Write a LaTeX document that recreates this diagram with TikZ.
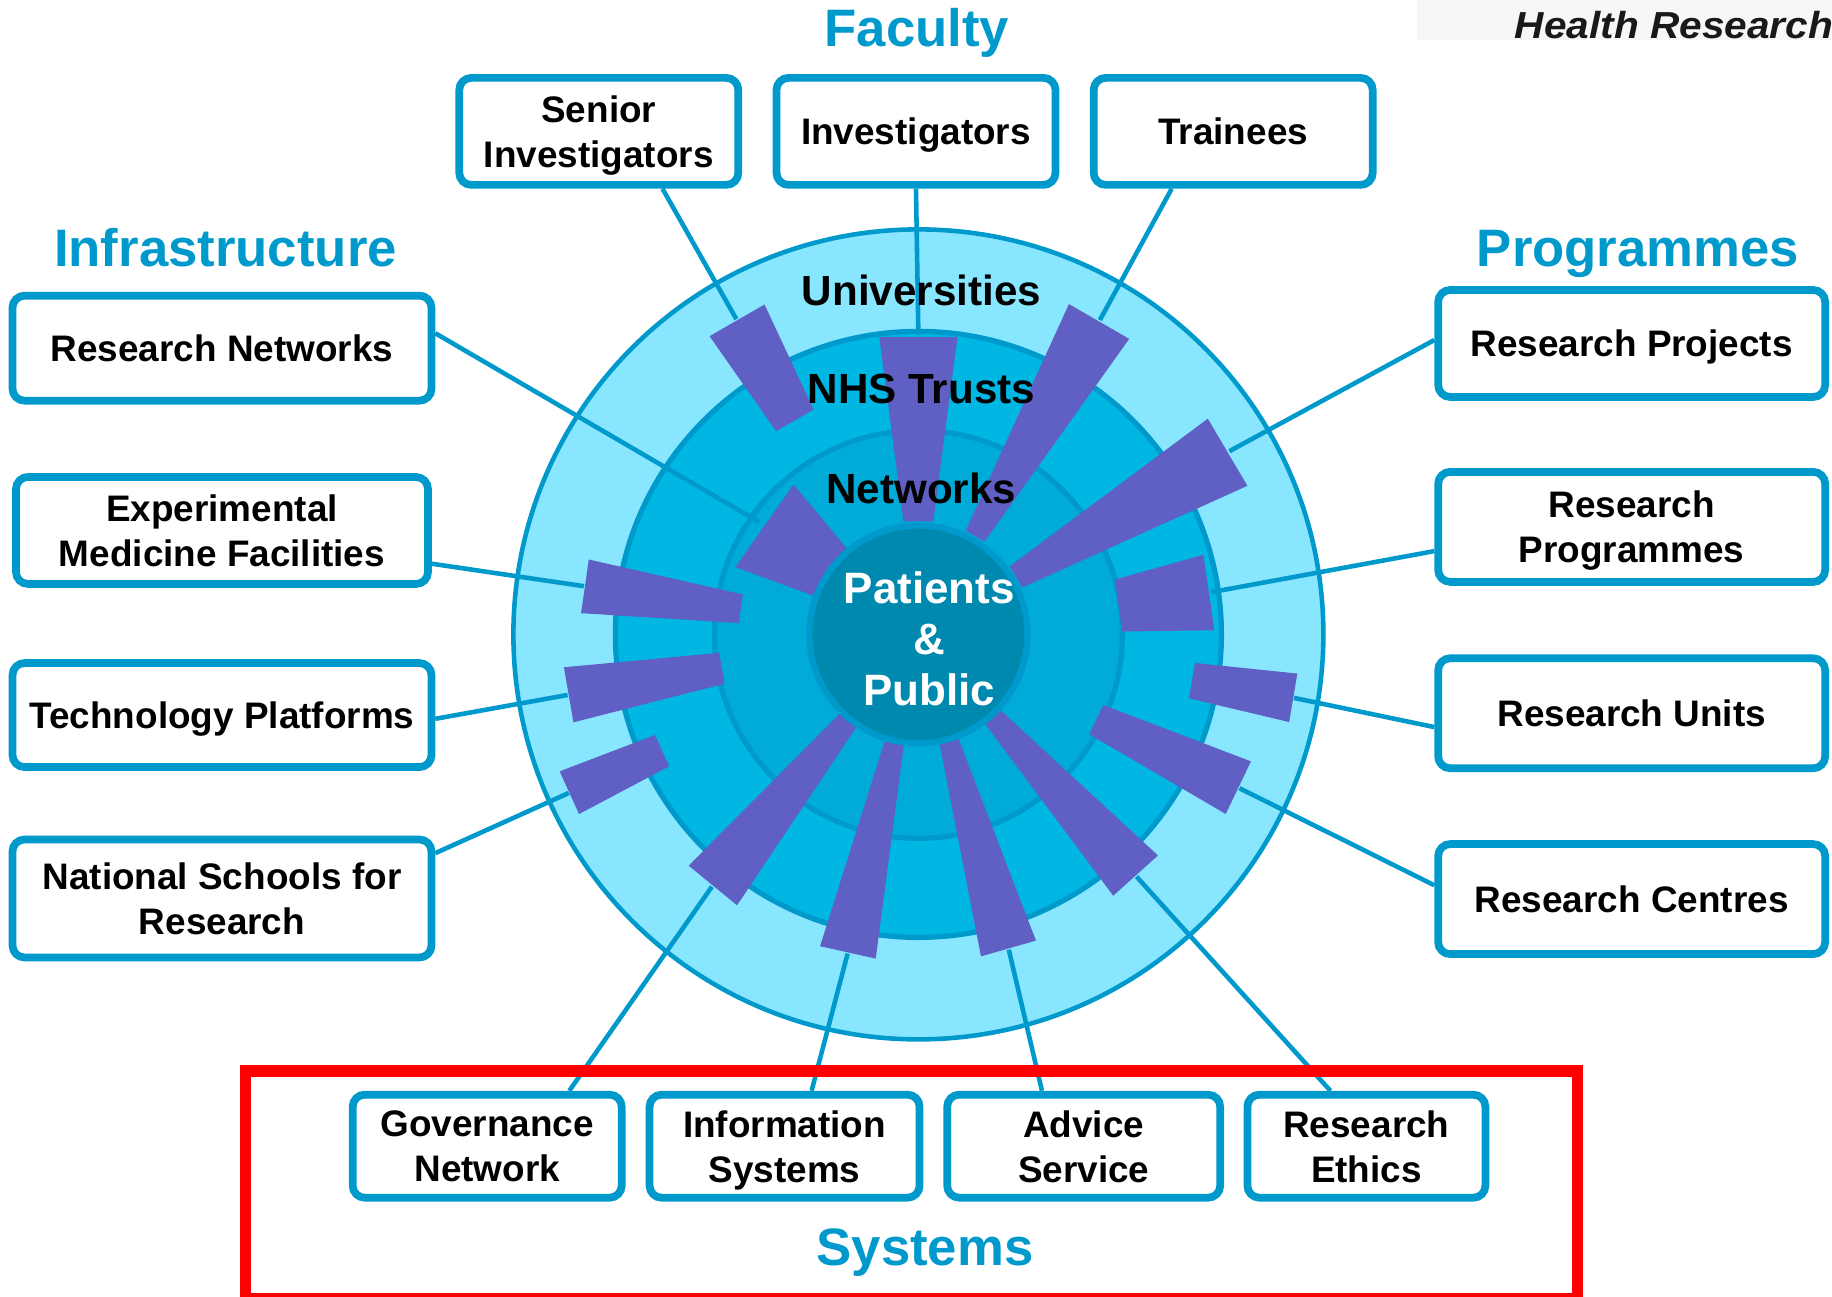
\documentclass[tikz,border=0pt]{standalone}
\usepackage{fontspec}
\setmainfont{Liberation Sans}
\usepackage{tikz}
\usetikzlibrary{calc}
\definecolor{nihrblue}{RGB}{0,153,204}
\definecolor{ringout}{RGB}{136,230,255}
\definecolor{ringmid}{RGB}{0,183,228}
\definecolor{ringin}{RGB}{0,171,216}
\definecolor{core}{RGB}{0,137,174}
\definecolor{wedgecol}{RGB}{95,95,196}
\newcommand*{\boxfont}{\fontsize{10.5}{12.8}\selectfont\bfseries}
\tikzset{%
  item/.style={draw=nihrblue, line width=2.2pt, rounded corners=1.2mm, fill=white,
    align=center, inner sep=0pt, text depth=0pt, font=\boxfont},% labelled box
  group/.style={text=nihrblue, font=\fontsize{15}{18}\selectfont\bfseries},% group heading
  ring/.style={draw=nihrblue, line width=1.5pt},% circle outline
  ringlabel/.style={font=\fontsize{12}{14}\selectfont\bfseries},% ring name
  spoke/.style={draw=nihrblue, line width=1.3pt},% box to wedge
  wedge/.style={fill=wedgecol}% purple wedge
}

\begin{document}
\begin{tikzpicture}
\useasboundingbox (-9.184,-6.626) rectangle (9.136,6.344);
\fill[black!3] (4.986,5.944) rectangle (9.136,6.344);

% rings
\draw[ring, fill=ringout, line width=1.3pt] (0,0) circle (4.05);
\draw[ring, fill=ringmid] (0,0) circle (3.03);
\draw[ring, fill=ringin] (0,0) circle (2.04);

% wedges: name/angle/half width/inner radius/outer radius
\foreach \id/\a/\w/\ri/\ro in {senior/120/5/2.48/3.64, invest/90/7.5/1.14/3.00,
    trainees/60/5.5/1.14/3.63, rproj/30.5/6.2/1.14/3.61, rprog/8.2/7.4/2.04/2.96,
    runits/-9.6/3.7/2.78/3.81, rcent/-25.6/4.7/1.98/3.56, ethics/-48/5.3/1.12/3.26,
    advice/-74/5/1.12/3.28, info/-102.5/5/1.10/3.27, gov/-129.3/5.5/1.09/3.26,
    natsch/-155.6/3.5/2.82/3.84, tech/-170.2/4.5/2.00/3.56, expmed/171.8/4.6/1.80/3.38,
    rnet/144.8/15/1.06/1.95}{
  \fill[wedge] (\a-\w:\ri) -- (\a+\w:\ri) -- (\a+\w:\ro) -- (\a-\w:\ro) -- cycle;
  \coordinate (\id-end) at (\a:\ro);
}

\draw[ring, fill=core, line width=1.8pt] (0,0) circle (1.09);

% boxes
\node[item, minimum width=4.19cm, minimum height=1.05cm] (rnet) at (-6.964, 2.862) {Research Networks};
\node[item, minimum width=4.12cm, minimum height=1.07cm] (expmed) at (-6.964, 1.039) {Experimental\\Medicine Facilities};
\node[item, minimum width=4.19cm, minimum height=1.04cm] (tech) at (-6.964, -0.807) {Technology Platforms};
\node[item, minimum width=4.19cm, minimum height=1.18cm] (natsch) at (-6.964, -2.641) {National Schools for\\Research};

\node[item, minimum width=2.79cm, minimum height=1.07cm] (senior) at (-3.196, 5.03) {Senior\\Investigators};
\node[item, minimum width=2.79cm, minimum height=1.07cm] (invest) at (-0.024, 5.03) {Investigators};
\node[item, minimum width=2.79cm, minimum height=1.07cm] (trainees) at (3.148, 5.03) {Trainees};

\node[item, minimum width=3.87cm, minimum height=1.07cm] (rproj) at (7.133, 2.909) {Research Projects};
\node[item, minimum width=3.87cm, minimum height=1.1cm] (rprog) at (7.133, 1.075) {Research\\Programmes};
\node[item, minimum width=3.87cm, minimum height=1.1cm] (runits) at (7.133, -0.789) {Research Units};
\node[item, minimum width=3.87cm, minimum height=1.1cm] (rcent) at (7.133, -2.647) {Research Centres};

\node[item, minimum width=2.69cm, minimum height=1.03cm] (gov) at (-4.312, -5.118) {Governance\\Network};
\node[item, minimum width=2.70cm, minimum height=1.03cm] (info) at (-1.338, -5.118) {Information\\Systems};
\node[item, minimum width=2.73cm, minimum height=1.03cm] (advice) at (1.653, -5.118) {Advice\\Service};
\node[item, minimum width=2.38cm, minimum height=1.03cm] (ethics) at (4.48, -5.118) {Research\\Ethics};

% spokes
\foreach \id/\at in {rnet/4, expmed/-9, tech/-1, natsch/12, senior/-42, invest/-90,
    trainees/-137, rproj/179, rprog/-173.5, runits/-176, rcent/176, gov/34, info/64,
    advice/127.5, ethics/123}
  \draw[spoke] (\id.\at) -- (\id-end);

% ring names
\node[ringlabel] (univ) at (0.03, 3.435) {Universities};
\node[ringlabel] (nhs) at (0.03, 2.453) {NHS Trusts};
\node[ringlabel] (netw) at (0.03, 1.46) {Networks};
\node[align=center, text=white, font=\fontsize{12.5}{14.5}\selectfont\bfseries] (pp) at (0.11, -0.04) {Patients\\\&\\Public};

% headings
\node[group, anchor=base] (faculty) at (-0.014, 5.88) {Faculty};
\node[group, anchor=base] (infra) at (-6.929, 3.68) {Infrastructure};
\node[group, anchor=base] (progs) at (7.196, 3.68) {Programmes};
\node[group, anchor=base] (systems) at (0.066, -6.31) {Systems};
\node[anchor=base west, inner sep=0pt, xscale=1.08, text=black!90, font=\fontsize{10.7}{12}\selectfont\bfseries\itshape] (hr) at (5.956, 5.954) {Health Research};

\draw[red, line width=3.4pt] (-6.729,-4.366) rectangle (6.591,-6.646);
\end{tikzpicture}
\end{document}
